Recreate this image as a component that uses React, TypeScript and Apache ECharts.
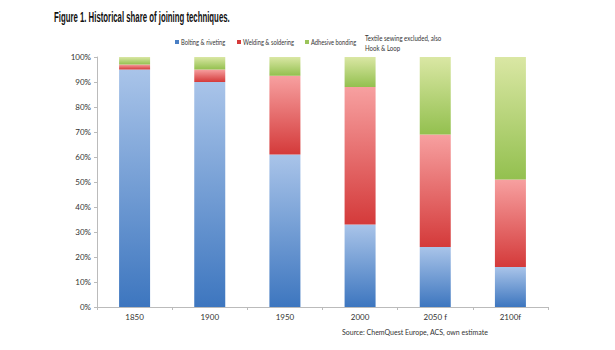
import React, { useEffect, useRef } from "react";
import * as echarts from "echarts";

const categories = ["1850", "1900", "1950", "2000", "2050 f", "2100f"];
const bolting = [95, 90, 61, 33, 24, 16];
const welding = [2, 5, 31.5, 55, 45, 35];
const adhesive = [3, 5, 7.5, 12, 31, 49];
const seriesNames = ["Bolting & riveting", "Welding & soldering", "Adhesive bonding"];
const legendColors = ["#4a7fc4", "#d53a3a", "#9bc45a"];

const grad = (top: string, bottom: string) =>
  new echarts.graphic.LinearGradient(0, 0, 0, 1, [
    { offset: 0, color: top },
    { offset: 1, color: bottom },
  ]);

export default function App() {
  const ref = useRef<HTMLDivElement>(null);
  useEffect(() => {
    if (!ref.current) return;
    const chart = echarts.init(ref.current, undefined, { renderer: "svg" });
    const font = "Lato";
    const legendX = [175, 237, 305];
    const legendItems: any[] = [];
    seriesNames.forEach((n, i) => {
      legendItems.push({
        type: "rect",
        x: legendX[i],
        y: 40,
        shape: { width: 4, height: 4 },
        style: { fill: legendColors[i] },
      });
      legendItems.push({
        type: "text",
        x: legendX[i] + 6,
        y: 42,
        scaleX: 0.68,
        style: {
          text: n,
          fontFamily: font,
          fontSize: 8.5,
          fill: "#333",
          verticalAlign: "middle",
        },
      });
    });
    chart.setOption({
      animation: false,
      backgroundColor: "#ffffff",
      graphic: [
        {
          type: "text",
          x: 54,
          y: 9,
          scaleX: 0.52,
          style: {
            text: "Figure 1. Historical share of joining techniques.",
            fontFamily: "Liberation Sans",
            fontWeight: "bold",
            fontSize: 15,
            fill: "#111",
            verticalAlign: "top",
          },
        },
        ...legendItems,
        {
          type: "text",
          x: 365,
          y: 33,
          scaleX: 0.76,
          style: {
            text: "Textile sewing excluded, also\nHook & Loop",
            fontFamily: font,
            fontSize: 8,
            lineHeight: 10,
            fill: "#333",
            verticalAlign: "top",
          },
        },
        {
          type: "text",
          x: 342,
          y: 328,
          style: {
            text: "Source: ChemQuest Europe, ACS, own estimate",
            fontFamily: font,
            fontSize: 7,
            fill: "#333",
            verticalAlign: "top",
          },
        },
      ],
      grid: { left: 97, right: 67, top: 57, bottom: 43 },
      xAxis: {
        type: "category",
        data: categories,
        axisLine: { lineStyle: { color: "#bbbbbb" } },
        axisTick: { show: true, alignWithLabel: false, length: 3, lineStyle: { color: "#bbbbbb" } },
        axisLabel: { fontFamily: font, fontSize: 8, color: "#333", margin: 6 },
      },
      yAxis: {
        type: "value",
        min: 0,
        max: 100,
        interval: 10,
        axisLine: { show: true, lineStyle: { color: "#bbbbbb" } },
        axisTick: { show: true, length: 3, lineStyle: { color: "#bbbbbb" } },
        splitLine: { show: false },
        axisLabel: { fontFamily: font, fontSize: 8, color: "#333", formatter: "{value}%", margin: 6 },
      },
      series: [
        {
          name: seriesNames[0],
          type: "bar",
          stack: "s",
          barWidth: 31,
          data: bolting,
          itemStyle: { color: grad("#a9c4e9", "#3d76bf") },
        },
        {
          name: seriesNames[1],
          type: "bar",
          stack: "s",
          barWidth: 31,
          data: welding,
          itemStyle: { color: grad("#f7a0a0", "#d43a3a") },
        },
        {
          name: seriesNames[2],
          type: "bar",
          stack: "s",
          barWidth: 31,
          data: adhesive,
          itemStyle: { color: grad("#dae7a4", "#93c04f") },
        },
      ],
    });
    return () => chart.dispose();
  }, []);
  return <div ref={ref} style={{ width: 615, height: 350, position: "absolute", left: 0, top: 0 }} />;
}
